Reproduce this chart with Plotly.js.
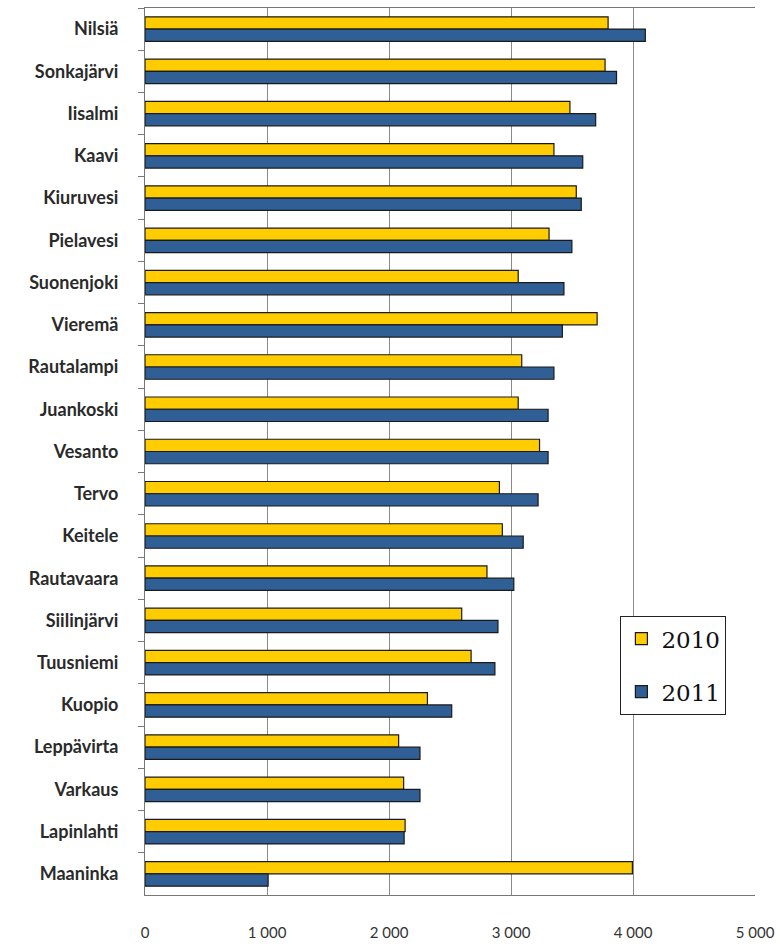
<!DOCTYPE html>
<html>
<head>
<meta charset="utf-8">
<script src="https://cdn.plot.ly/plotly-3.0.1.min.js"></script>
<style>
html,body{margin:0;padding:0;background:#fff;}
#chart{width:780px;height:944px;}
</style>
</head>
<body>
<div id="chart"></div>
<script>
const categories = ["Nilsiä","Sonkajärvi","Iisalmi","Kaavi","Kiuruvesi","Pielavesi","Suonenjoki","Vieremä","Rautalampi","Juankoski","Vesanto","Tervo","Keitele","Rautavaara","Siilinjärvi","Tuusniemi","Kuopio","Leppävirta","Varkaus","Lapinlahti","Maaninka"];
const values2010 = [3796,3771,3483,3352,3535,3312,3059,3706,3088,3059,3234,2905,2929,2803,2596,2673,2315,2079,2120,2132,3995];
const values2011 = [4101,3865,3694,3588,3576,3499,3434,3421,3352,3304,3304,3222,3100,3023,2893,2868,2514,2254,2254,2124,1009];
const tickValues = [0,1000,2000,3000,4000,5000];
const tickLabels = ["0","1 000","2 000","3 000","4 000","5 000"];

const traces = [
  {type:"bar", orientation:"h", name:"2010", y:categories, x:values2010,
   marker:{color:"#FFCC00", line:{color:"#1a1a1a", width:1.2}}, legendgroup:"a"},
  {type:"bar", orientation:"h", name:"2011", y:categories, x:values2011,
   marker:{color:"#2F5F94", line:{color:"#1a1a1a", width:1.2}}, legendgroup:"b"}
];

const layout = {
  width:780, height:944,
  margin:{l:145, r:25, t:8, b:49},
  paper_bgcolor:"#fff", plot_bgcolor:"#fff",
  barmode:"group", bargap:0.42, bargroupgap:0,
  font:{family:"Lato, 'Open Sans', sans-serif", color:"#222"},
  xaxis:{range:[0,5000], tickvals:tickValues, ticktext:tickLabels,
    showgrid:true, gridcolor:"#8a8a8a", gridwidth:1,
    zeroline:false, showline:true, linecolor:"#777", linewidth:1, mirror:true,
    ticks:"", ticklabelstandoff:24, tickfont:{size:15, color:"#333"}},
  yaxis:{type:"category", autorange:"reversed", showline:true, linecolor:"#777", linewidth:1,
    ticks:"outside", tickson:"boundaries", ticklen:6, tickcolor:"#777",
    ticklabelstandoff:22, tickfont:{size:18, color:"#2a2a2a", weight:"bold"}, showgrid:false},
  showlegend:true,
  legend:{x:0.779, y:0.3145, xanchor:"left", yanchor:"top",
    bordercolor:"#222", borderwidth:1.2, bgcolor:"#fff",
    traceorder:"grouped", tracegroupgap:20,
    font:{family:"'DejaVu Serif', 'Liberation Serif', serif", size:23, color:"#111"}}
};

Plotly.newPlot("chart", traces, layout, {displayModeBar:false, staticPlot:true});
</script>
</body>
</html>
